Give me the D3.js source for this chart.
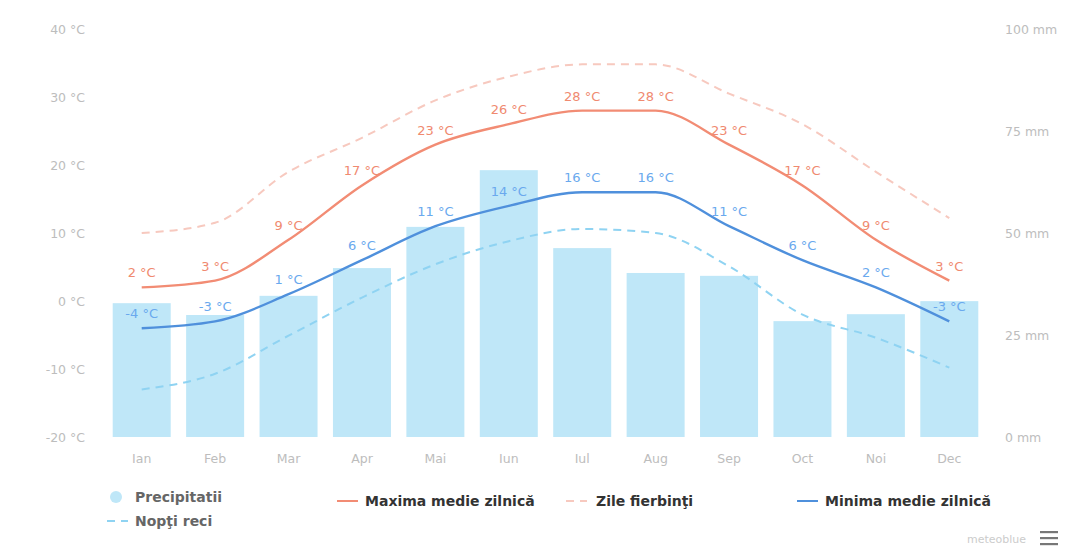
<!DOCTYPE html>
<html><head><meta charset="utf-8">
<script src="https://cdn.jsdelivr.net/npm/d3@7"></script>
<style>
html,body{margin:0;padding:0;background:#fff;}
svg{display:block;font-family:"DejaVu Sans",sans-serif;}
</style></head>
<body>
<svg id="chart" width="1067" height="546"></svg>
<script>
const months = ["Ian","Feb","Mar","Apr","Mai","Iun","Iul","Aug","Sep","Oct","Noi","Dec"];
const precipitation = [32.8, 29.9, 34.6, 41.4, 51.5, 65.4, 46.3, 40.2, 39.5, 28.4, 30.1, 33.3];
const maxTemp = [2, 3, 9, 17, 23, 26, 28, 28, 23, 17, 9, 3];
const minTemp = [-4, -3, 1, 6, 11, 14, 16, 16, 11, 6, 2, -3];
const hotDays = [10, 11.5, 19, 24, 29.5, 33, 34.8, 34.8, 30.5, 26, 19, 12.2];
const coldNights = [-13, -10.7, -5.1, 0.5, 5.4, 8.8, 10.6, 10, 5.1, -2, -5.4, -9.8];
const tempTicks = [-20, -10, 0, 10, 20, 30, 40];
const precTicks = [0, 25, 50, 75, 100];

const svg = d3.select("#chart");
const pLeft = 105, pRight = 986, pTop = 29, pBottom = 437;

const x = d3.scaleBand().domain(months).range([pLeft, pRight]).paddingInner(0.21).paddingOuter(0.105);
const yT = d3.scaleLinear().domain([-20, 40]).range([pBottom, pTop]);
const yP = d3.scaleLinear().domain([0, 100]).range([pBottom, pTop]);
const cx = m => x(m) + x.bandwidth() / 2;

// Axes
const axL = svg.append("g").attr("transform", `translate(${pLeft - 20},0)`)
  .call(d3.axisLeft(yT).tickValues(tempTicks).tickSize(0).tickFormat(d => `${d} °C`));
const axR = svg.append("g").attr("transform", `translate(${pRight + 19},0)`)
  .call(d3.axisRight(yP).tickValues(precTicks).tickSize(0).tickFormat(d => `${d} mm`));
const axB = svg.append("g").attr("transform", `translate(0,${pBottom + 12})`)
  .call(d3.axisBottom(x).tickSize(0));
[axL, axR, axB].forEach(a => {
  a.select(".domain").remove();
  a.selectAll("text").attr("fill", "#bdbdbd").style("font-size", "12.5px")
    .style("font-family", "'DejaVu Sans',sans-serif");
});
axR.selectAll("text").attr("x", 0);
axL.selectAll("text").attr("x", 0);
axB.selectAll("text").attr("dy", "0.9em");

// Bars
svg.append("g").selectAll("rect").data(precipitation).join("rect")
  .attr("x", (d, i) => x(months[i]))
  .attr("width", x.bandwidth())
  .attr("y", d => yP(d))
  .attr("height", d => yP(0) - yP(d))
  .attr("fill", "#bfe7f8");

const line = arr => d3.line()
  .x((d, i) => cx(months[i]))
  .y(d => yT(d))
  .curve(d3.curveMonotoneX)(arr);

svg.append("path").attr("d", line(hotDays)).attr("fill", "none")
  .attr("stroke", "#f7c9bf").attr("stroke-width", 2).attr("stroke-dasharray", "8,6");
svg.append("path").attr("d", line(coldNights)).attr("fill", "none")
  .attr("stroke", "#8fd3f2").attr("stroke-width", 2).attr("stroke-dasharray", "8,6");
svg.append("path").attr("d", line(maxTemp)).attr("fill", "none")
  .attr("stroke", "#f28c74").attr("stroke-width", 2.4);
svg.append("path").attr("d", line(minTemp)).attr("fill", "none")
  .attr("stroke", "#4f90dc").attr("stroke-width", 2.4);

// Data labels
function labels(arr, color) {
  svg.append("g").selectAll("text").data(arr).join("text")
    .attr("x", (d, i) => cx(months[i]))
    .attr("y", d => yT(d) - 10)
    .attr("text-anchor", "middle")
    .attr("fill", color)
    .style("font-size", "13px")
    .text(d => `${d} °C`);
}
labels(maxTemp, "#f08a70");
labels(minTemp, "#6aa9ee");

// Legend
const lg = svg.append("g").style("font-size", "14px").style("font-weight", "bold");
lg.append("circle").attr("cx", 116).attr("cy", 497).attr("r", 6).attr("fill", "#bfe7f8");
lg.append("text").attr("x", 135).attr("y", 502).attr("fill", "#666").text("Precipitatii");
lg.append("line").attr("x1", 337).attr("x2", 358).attr("y1", 501).attr("y2", 501)
  .attr("stroke", "#f28c74").attr("stroke-width", 2);
lg.append("text").attr("x", 365).attr("y", 506).attr("fill", "#333").text("Maxima medie zilnică");
lg.append("line").attr("x1", 566).attr("x2", 587).attr("y1", 501).attr("y2", 501)
  .attr("stroke", "#f7c9bf").attr("stroke-width", 2).attr("stroke-dasharray", "8,6");
lg.append("text").attr("x", 596).attr("y", 506).attr("fill", "#333").text("Zile fierbinţi");
lg.append("line").attr("x1", 797).attr("x2", 818).attr("y1", 501).attr("y2", 501)
  .attr("stroke", "#4f90dc").attr("stroke-width", 2);
lg.append("text").attr("x", 825).attr("y", 506).attr("fill", "#333").text("Minima medie zilnică");
lg.append("line").attr("x1", 107).attr("x2", 128).attr("y1", 521).attr("y2", 521)
  .attr("stroke", "#8fd3f2").attr("stroke-width", 2).attr("stroke-dasharray", "8,6");
lg.append("text").attr("x", 135).attr("y", 526).attr("fill", "#666").text("Nopţi reci");

// Credits and menu
svg.append("text").attr("x", 1026).attr("y", 543).attr("text-anchor", "end")
  .attr("fill", "#cccccc").style("font-size", "11px").text("meteoblue");
[532, 538, 544].forEach(yy => svg.append("rect").attr("x", 1040).attr("y", yy - 1)
  .attr("width", 18).attr("height", 2.2).attr("fill", "#777"));
</script>
</body></html>
